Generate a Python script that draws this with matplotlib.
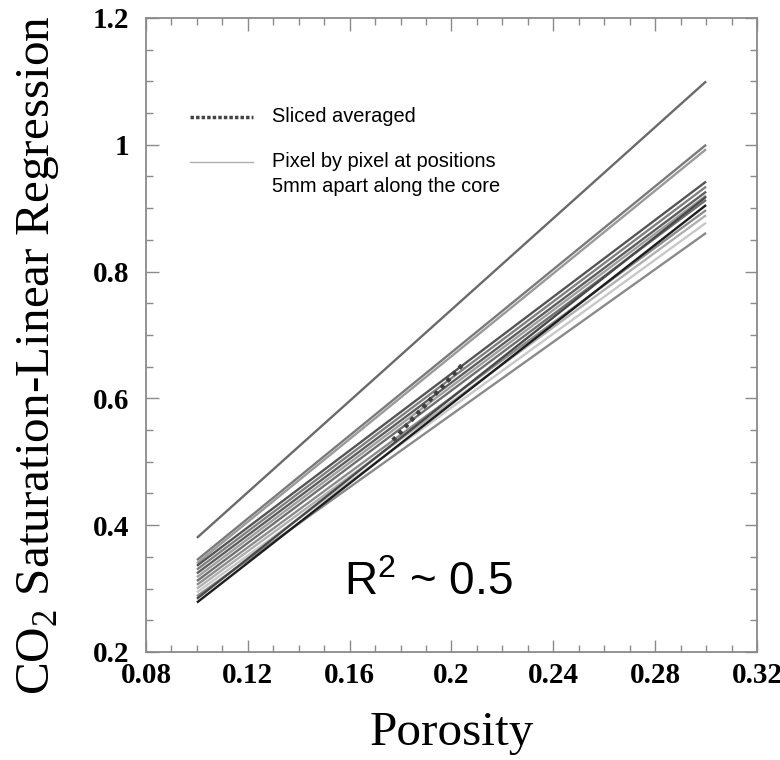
import matplotlib
matplotlib.use("Agg")
import matplotlib.pyplot as plt
import numpy as np
from matplotlib.ticker import MultipleLocator

plt.rcParams['mathtext.fontset'] = 'custom'
plt.rcParams['mathtext.rm'] = 'Liberation Serif'
plt.rcParams['mathtext.sf'] = 'Liberation Sans'

# Regression lines: value at porosity 0.1 and 0.3
x_start = 0.1
x_end = 0.3
line_starts = [0.380, 0.345, 0.340, 0.336, 0.330, 0.324, 0.318, 0.312, 0.306, 0.300, 0.294, 0.288, 0.284, 0.278]
line_ends   = [1.100, 1.000, 0.993, 0.942, 0.934, 0.926, 0.920, 0.913, 0.897, 0.889, 0.877, 0.861, 0.918, 0.905]
line_greys  = ['#6a6a6a', '#7a7a7a', '#9a9a9a', '#555555', '#808080', '#5e5e5e', '#a0a0a0', '#707070',
               '#8c8c8c', '#b0b0b0', '#c8c8c8', '#8a8a8a', '#4a4a4a', '#1e1e1e']

# Slice-averaged points (short dotted segment)
slice_x = [0.177, 0.181, 0.185, 0.189, 0.193, 0.197, 0.201, 0.205]
slice_y = [0.534, 0.551, 0.569, 0.586, 0.604, 0.621, 0.639, 0.656]

fig = plt.figure(figsize=(7.8, 7.6), dpi=100)
ax = fig.add_axes([146/780, 1-652/760, 611/780, 634/760])

for s, e, c in zip(line_starts, line_ends, line_greys):
    ax.plot([x_start, x_end], [s, e], color=c, lw=1.7, solid_capstyle='butt')

ax.plot(slice_x, slice_y, color='#404040', lw=3.2, linestyle=(0, (0.9, 1.1)))

ax.set_xlim(0.08, 0.32)
ax.set_ylim(0.2, 1.2)
ax.xaxis.set_minor_locator(MultipleLocator(0.01))
ax.yaxis.set_minor_locator(MultipleLocator(0.05))
ax.set_xticks(np.arange(0.08, 0.321, 0.04))
ax.set_xticklabels(['0.08', '0.12', '0.16', '0.2', '0.24', '0.28', '0.32'])
ax.set_yticks(np.arange(0.2, 1.21, 0.2))
ax.set_yticklabels(['0.2', '0.4', '0.6', '0.8', '1', '1.2'])

for sp in ax.spines.values():
    sp.set_color('#8a8a8a')
    sp.set_linewidth(1.3)
ax.tick_params(which='both', direction='in', top=True, right=True, color='#8a8a8a', width=1.0)
ax.tick_params(which='major', length=9)
ax.tick_params(which='minor', length=5)
ax.tick_params(axis='x', pad=7)
ax.tick_params(axis='y', pad=12)
for lab in ax.get_xticklabels() + ax.get_yticklabels():
    lab.set_fontfamily('Liberation Serif')
    lab.set_fontweight('bold')
    lab.set_fontsize(21)

ax.set_xlabel('Porosity', family='Liberation Serif', fontsize=35.5, labelpad=16)
fig.text(38/780, 1-355/760, 'CO$_{\\mathrm{2}}$ Saturation-Linear Regression', family='Liberation Serif',
         fontsize=35.5, rotation=90, ha='center', va='center')

# Legend (manual keys)
ax.plot([0.072, 0.175], [0.844, 0.844], transform=ax.transAxes, color='#444444', lw=2.5,
        linestyle=(0, (1.0, 0.6)))
ax.text(0.206, 0.844, 'Sliced averaged', transform=ax.transAxes, family='Liberation Sans',
        fontsize=14.4, va='center', ha='left')
ax.plot([0.072, 0.175], [0.773, 0.773], transform=ax.transAxes, color='#b0b0b0', lw=1.0)
ax.text(0.206, 0.773, 'Pixel by pixel at positions', transform=ax.transAxes, family='Liberation Sans',
        fontsize=14.4, va='center', ha='left')
ax.text(0.206, 0.735, '5mm apart along the core', transform=ax.transAxes, family='Liberation Sans',
        fontsize=14.4, va='center', ha='left')

ax.text(0.4615, 0.109, '$\\mathsf{R}^{\\mathsf{2}}$ ~ 0.5', transform=ax.transAxes,
        family='Liberation Sans', fontsize=33, ha='center', va='center')

fig.savefig('out.png', dpi=100)
